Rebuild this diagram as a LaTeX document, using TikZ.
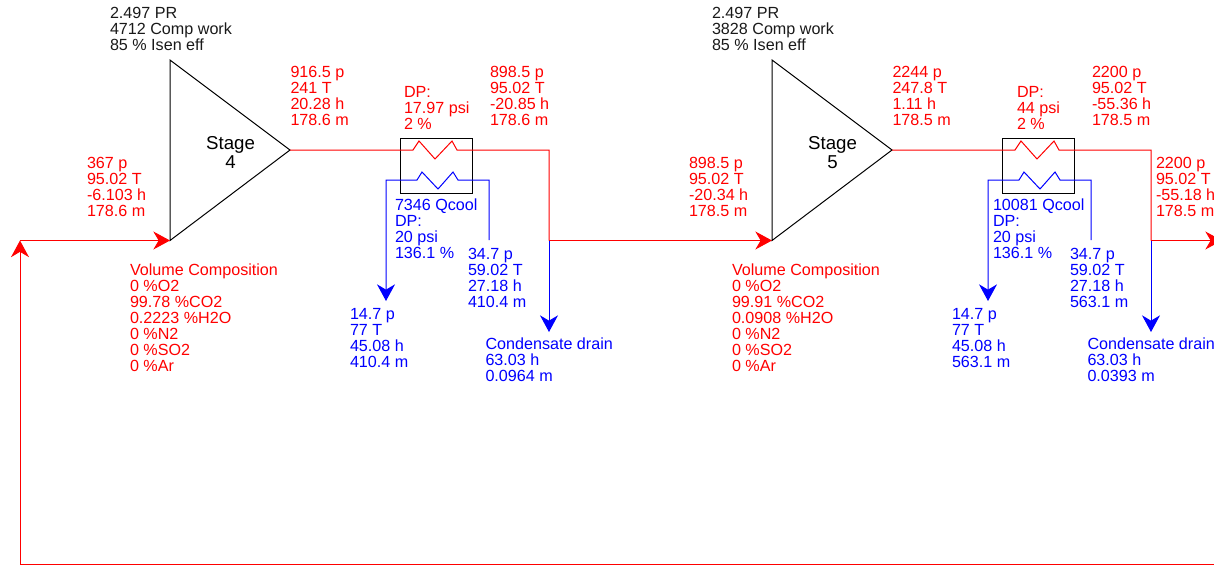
\documentclass[tikz,border=0pt]{standalone}
\usepackage{fontspec}
\setmainfont{Liberation Sans}
\usetikzlibrary{arrows.meta}
\definecolor{sred}{RGB}{255,0,0}
\definecolor{sblue}{RGB}{0,0,255}
\tikzset{
  lbl/.style={anchor=north west,inner sep=0pt,outer sep=0pt,align=left,font=\fontsize{12.1}{12}\selectfont},
  redlbl/.style={lbl,text=sred},
  bluelbl/.style={lbl,text=sblue},
  blacklbl/.style={lbl,text=black!90},
  stagelbl/.style={inner sep=0pt,align=center,font=\fontsize{14}{14.25}\selectfont},
  tri/.style={draw=black,line width=0.75pt,line join=miter},
  hxbox/.style={draw=black,line width=0.75pt,minimum width=54pt,minimum height=41.25pt,inner sep=0pt},
  redline/.style={draw=sred,line width=0.75pt},
  blueline/.style={draw=sblue,line width=0.75pt},
  tip/.style={-{Stealth[length=12.5pt,width=13.5pt,inset=4pt]}},
}
\begin{document}
\begin{tikzpicture}[x=0.75pt,y=-0.75pt]
\useasboundingbox (0,0) rectangle (1214,565);
% ---- shared coordinates
\coordinate (t4a) at (170,60); \coordinate (t4b) at (170,240.5); \coordinate (t4c) at (290,150);
\coordinate (t5a) at (772,60); \coordinate (t5b) at (772,240.5); \coordinate (t5c) at (892,150);
\coordinate (n4) at (549,150); \coordinate (j4) at (549,240.5); \coordinate (d4) at (549,332);
\coordinate (cs4) at (489,240); \coordinate (ce4) at (386,301);
\coordinate (c0) at (20,564.5); \coordinate (c1) at (20,240.5); \coordinate (c2) at (1214,564.5);
\coordinate (n5) at (1151,150); \coordinate (j5) at (1151,240.5); \coordinate (d5) at (1151,332);
\coordinate (out) at (1222,240.5);
\coordinate (cs5) at (1091,240); \coordinate (ce5) at (988,301);
% ---- stage 4
\draw[tri] (t4a) -- (t4c) -- (t4b) -- cycle;
\node[stagelbl] (s4) at (230.5,152.5) {Stage\\4};
\node[hxbox] (hx4) at (436,165.5) {};
\draw[redline] (t4c) -- (413,150) -- (419,141) -- (435,159) -- (452,141) -- (457,150) -- (n4) -- (j4);
\draw[redline,tip] (j4) -- (t5b);
\draw[blueline,tip] (j4) -- (d4);
\draw[blueline,tip] (cs4) -- (489,180) -- (458,180) -- (453,172) -- (438,189) -- (422,172) -- (417,180) -- (386,180) -- (ce4);
\draw[redline,tip] (c2) -- (c0) -- (c1);
\draw[redline,tip] (c1) -- (t4b);
% ---- stage 5
\draw[tri] (t5a) -- (t5c) -- (t5b) -- cycle;
\node[stagelbl] (s5) at (832.5,152.5) {Stage\\5};
\node[hxbox] (hx5) at (1038,165.5) {};
\draw[redline] (t5c) -- (1015,150) -- (1021,141) -- (1037,159) -- (1054,141) -- (1059,150) -- (n5) -- (j5);
\draw[redline,tip] (j5) -- (out);
\draw[blueline,tip] (j5) -- (d5);
\draw[blueline,tip] (cs5) -- (1091,180) -- (1060,180) -- (1055,172) -- (1040,189) -- (1024,172) -- (1019,180) -- (988,180) -- (ce5);
% ---- labels stage 4
\node[blacklbl] (a1) at (110,7) {2.497 PR\\4712 Comp work\\85 \% Isen eff};
\node[redlbl] (a2) at (87,157) {367 p\\95.02 T\\-6.103 h\\178.6 m};
\node[redlbl] (a3) at (290.5,66) {916.5 p\\241 T\\20.28 h\\178.6 m};
\node[redlbl] (a4) at (404,86) {DP:\\17.97 psi\\2 \%};
\node[redlbl] (a5) at (490,66) {898.5 p\\95.02 T\\-20.85 h\\178.6 m};
\node[bluelbl] (a6) at (395,199) {7346 Qcool\\DP:\\20 psi\\136.1 \%};
\node[bluelbl] (a7) at (468,248) {34.7 p\\59.02 T\\27.18 h\\410.4 m};
\node[bluelbl] (a8) at (350,308) {14.7 p\\77 T\\45.08 h\\410.4 m};
\node[bluelbl] (a9) at (485.5,338) {Condensate drain\\63.03 h\\0.0964 m};
\node[redlbl] (a10) at (130,264) {Volume Composition\\0 \%O2\\99.78 \%CO2\\0.2223 \%H2O\\0 \%N2\\0 \%SO2\\0 \%Ar};
% ---- labels stage 5
\node[blacklbl] (b1) at (712,7) {2.497 PR\\3828 Comp work\\85 \% Isen eff};
\node[redlbl] (b2) at (689,157) {898.5 p\\95.02 T\\-20.34 h\\178.5 m};
\node[redlbl] (b3) at (892.5,66) {2244 p\\247.8 T\\1.11 h\\178.5 m};
\node[redlbl] (b4) at (1017,86) {DP:\\44 psi\\2 \%};
\node[redlbl] (b5) at (1092,66) {2200 p\\95.02 T\\-55.36 h\\178.5 m};
\node[bluelbl] (b6) at (993,199) {10081 Qcool\\DP:\\20 psi\\136.1 \%};
\node[bluelbl] (b7) at (1070,248) {34.7 p\\59.02 T\\27.18 h\\563.1 m};
\node[bluelbl] (b8) at (952,308) {14.7 p\\77 T\\45.08 h\\563.1 m};
\node[bluelbl] (b9) at (1087.5,338) {Condensate drain\\63.03 h\\0.0393 m};
\node[redlbl] (b10) at (732,264) {Volume Composition\\0 \%O2\\99.91 \%CO2\\0.0908 \%H2O\\0 \%N2\\0 \%SO2\\0 \%Ar};
\node[redlbl] (b11) at (1156,157) {2200 p\\95.02 T\\-55.18 h\\178.5 m};
\end{tikzpicture}
\end{document}
